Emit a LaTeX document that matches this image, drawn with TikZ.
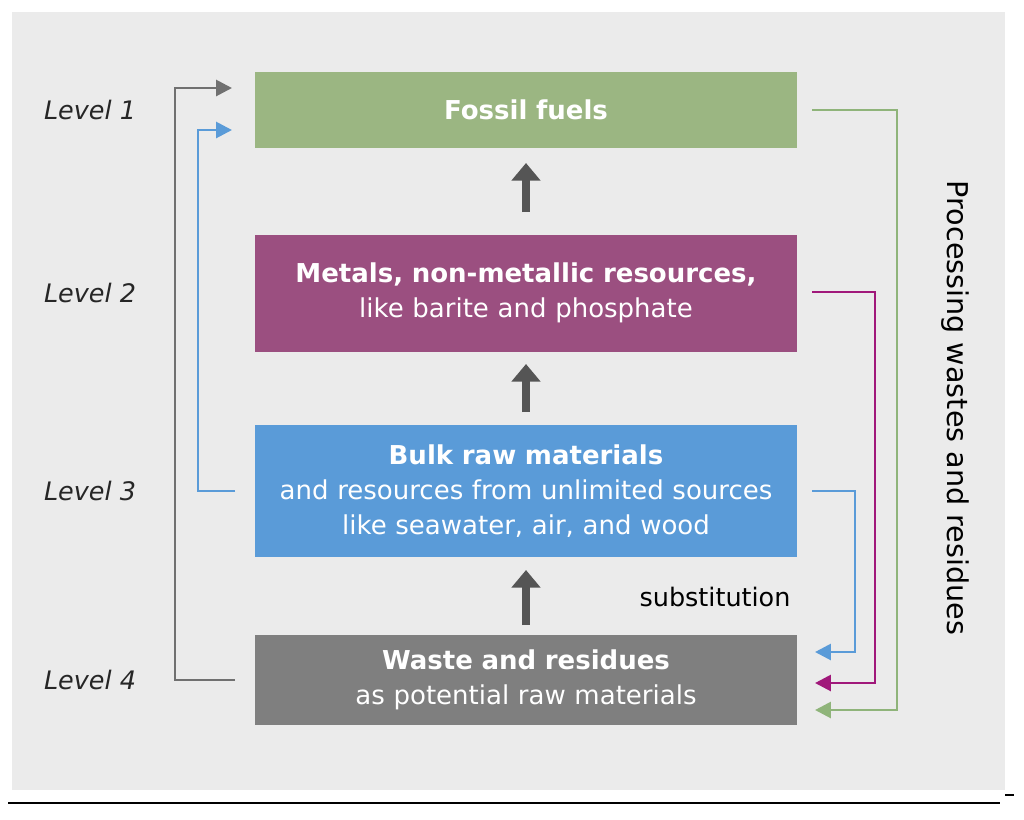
\documentclass[tikz,border=0pt]{standalone}
\usepackage{fontspec}
\setmainfont{DejaVu Sans}
\usetikzlibrary{arrows.meta}
\definecolor{bg}{HTML}{EBEBEB}
\definecolor{cgreen}{HTML}{9BB682}
\definecolor{cpurple}{HTML}{9B4F80}
\definecolor{cblue}{HTML}{5A9BD8}
\definecolor{cgray}{HTML}{7F7F7F}
\definecolor{lgreen}{HTML}{8FB47A}
\definecolor{lpurple}{HTML}{A0187A}
\definecolor{lblue}{HTML}{5A9BD8}
\definecolor{lgray}{HTML}{707070}
\definecolor{dark}{HTML}{555555}
\begin{document}
\begin{tikzpicture}[x=0.02cm,y=-0.02cm,
  box/.style={minimum width=542*0.02cm,text width=540*0.02cm,align=center,text=white,font=\fontsize{14.8}{20}\selectfont,inner sep=0pt},
  lvl/.style={font=\fontsize{14.5}{17}\selectfont\itshape,text=black!85},
  con/.style={line width=1.6pt,-{Triangle[length=9pt,width=9pt]}},
  up/.style={line width=4.5pt,dark,-{Triangle[length=10pt,width=16pt]}}]
\useasboundingbox (0,0) rectangle (1024,819);
\fill[bg] (12,12) rectangle (1005,790);
\draw[line width=1.2pt] (8,803) -- (1000,803);
\draw[line width=0.8pt] (1005,795) -- (1014,795);
\node[box,fill=cgreen,minimum height=76*0.02cm] (f) at (526,110) {\textbf{Fossil fuels}};
\node[box,fill=cpurple,minimum height=117*0.02cm] (m) at (526,293) {\textbf{Metals, non-metallic resources,}\\like barite and phosphate};
\node[box,fill=cblue,minimum height=132*0.02cm] (b) at (526,491) {\textbf{Bulk raw materials}\\and resources from unlimited sources\\like seawater, air, and wood};
\node[box,fill=cgray,minimum height=90*0.02cm] (w) at (526,680) {\textbf{Waste and residues}\\as potential raw materials};
\node[lvl] (l1) at (90,110) {Level 1};
\node[lvl] (l2) at (90,293) {Level 2};
\node[lvl] (l3) at (90,491) {Level 3};
\node[lvl] (l4) at (90,680) {Level 4};
\coordinate (a1s) at (526,212); \coordinate (a1e) at (526,163);
\coordinate (a2s) at (526,412); \coordinate (a2e) at (526,364);
\coordinate (a3s) at (526,625); \coordinate (a3e) at (526,570);
\draw[up] (a1s) -- (a1e);
\draw[up] (a2s) -- (a2e);
\draw[up] (a3s) -- (a3e);
\node[font=\fontsize{14.5}{17}\selectfont] (s) at (715,597) {substitution};
\node[font=\fontsize{16.3}{19}\selectfont,rotate=-90] (p) at (955,408) {Processing wastes and residues};
\coordinate (g1) at (235,680); \coordinate (g2) at (232,88);
\draw[con,lgray] (g1) -- (175,680) -- (175,88) -- (g2);
\coordinate (b1) at (235,491); \coordinate (b2) at (232,130);
\draw[con,lblue] (b1) -- (198,491) -- (198,130) -- (b2);
\coordinate (r1) at (812,110); \coordinate (r2) at (815,710);
\draw[con,lgreen] (r1) -- (897,110) -- (897,710) -- (r2);
\coordinate (p1) at (812,292); \coordinate (p2) at (815,683);
\draw[con,lpurple] (p1) -- (875,292) -- (875,683) -- (p2);
\coordinate (q1) at (812,491); \coordinate (q2) at (815,652);
\draw[con,lblue] (q1) -- (855,491) -- (855,652) -- (q2);
\end{tikzpicture}
\end{document}
